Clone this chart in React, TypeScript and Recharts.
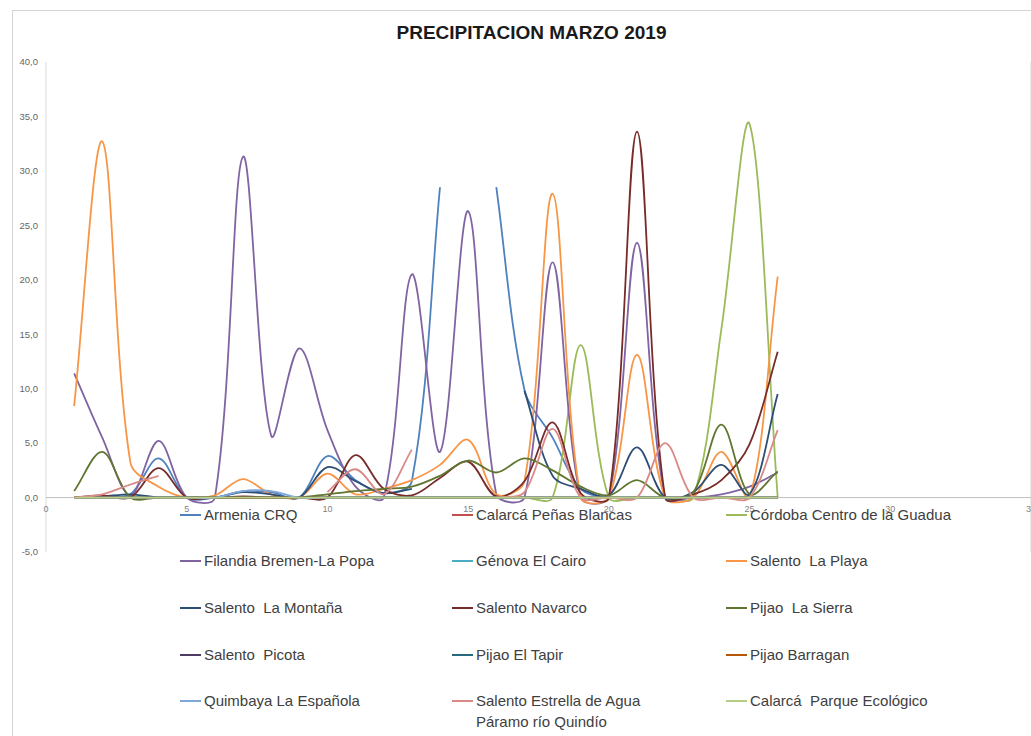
import React from 'react';
import {
  LineChart,
  Line,
  XAxis,
  YAxis,
  CartesianGrid,
  ReferenceLine,
  ReferenceDot,
  Legend,
} from 'recharts';

// ---------- data ----------
const days = [1, 2, 3, 4, 5, 6, 7, 8, 9, 10, 11, 12, 13, 14, 15, 16, 17, 18, 19, 20, 21, 22, 23, 24, 25, 26];

const xTicks = [0, 5, 10, 15, 20, 25, 30, 35];
const yTicks = [-5, 0, 5, 10, 15, 20, 25, 30, 35, 40];

const seriesNames = [
  'Armenia CRQ',
  'Calarcá Peñas Blancas',
  'Córdoba Centro de la Guadua',
  'Filandia Bremen-La Popa',
  'Génova El Cairo',
  'Salento  La Playa',
  'Salento  La Montaña',
  'Salento Navarco',
  'Pijao  La Sierra',
  'Salento  Picota',
  'Pijao El Tapir',
  'Pijao Barragan',
  'Quimbaya La Española',
  'Salento Estrella de Agua Páramo río Quindío',
  'Calarcá  Parque Ecológico',
];

const seriesColors = [
  '#4F81BD',
  '#C0504D',
  '#9BBB59',
  '#8064A2',
  '#4BACC6',
  '#F79646',
  '#2C4D75',
  '#772C2A',
  '#5F7530',
  '#4D3B62',
  '#276A7C',
  '#B65708',
  '#7FA7DA',
  '#D98A87',
  '#B5CE85',
];

type V = number | null;

const armeniaCRQ: V[] = [0, 0.1, 0.3, 3.6, 0, 0, 0.6, 0.5, 0, 3.8, 1.6, 0.4, 1.5, 28.5, null, 28.5, 9.9, 5.5, 0.8, 0, 0, 0, 0, 0, 0, 0];
const calarcaPenasBlancas: V[] = [0, 0, 0, 0, 0, 0, 0, 0, 0, 0, 0, 0, 0, 0, 0, 0, 0, 0, 0, 0, 0, 0, 0, 0, 0, 0];
const cordobaGuadua: V[] = [0, 0, 0, 0, 0, 0, 0, 0, 0, 0, 0, 0, 0, 0, 0, 0, 0, 0, 14.0, 0, 0, 0, 0, 15.5, 34.3, 0];
const filandiaBremen: V[] = [11.4, 5.5, 0.2, 5.2, 0, 0, 31.3, 5.7, 13.7, 6.2, 1.0, 0, 20.5, 4.2, 26.3, 0.3, 0, 21.6, 0, 0, 23.4, 0, 0, 0.3, 1.0, 2.3];
const genovaCairo: V[] = [0, 0, 0, 0, 0, 0, 0, 0, 0, 0, 0, 0, 0, 0, 0, 0, 0, 0, 0, 0, 0, 0, 0, 0, 0, 0];
const salentoLaPlaya: V[] = [8.4, 32.7, 3.2, 1.0, 0, 0.2, 1.7, 0.3, 0, 2.2, 0.3, 0.8, 1.6, 3.0, 5.3, 0.3, 1.5, 27.9, 0, 0, 13.1, 0, 0, 4.2, 0, 20.3];
const salentoLaMontana: V[] = [0, 0.1, 0.3, 0, 0, 0, 0.5, 0.3, 0, 2.8, 1.5, 0.4, 0.8, null, null, null, 9.8, 2.0, 0.8, 0.2, 4.6, 0, 0.5, 3.0, 0.3, 9.5];
const salentoNavarco: V[] = [0, 0.2, 0, 2.7, 0, 0, 0.1, 0, 0, 0, 3.9, 0.8, 0.2, 1.8, 3.3, 0.1, 1.5, 6.9, 0.4, 0, 33.6, 0, 0.3, 1.6, 4.9, 13.4];
const pijaoLaSierra: V[] = [0.6, 4.2, 0, 0, 0, 0, 0, 0, 0, 0.3, 0.6, 0.8, 1.0, 2.0, 3.4, 2.3, 3.6, 2.5, 1.0, 0.2, 1.6, 0, 0.5, 6.7, 0.3, 2.4];
const salentoPicota: V[] = [0, 0, 0, 0, 0, 0, 0, 0, 0, 0, 0, 0, 0, 0, 0, 0, 0, 0, 0, 0, 0, 0, 0, 0, 0, 0];
const pijaoElTapir: V[] = [0, 0, 0, 0, 0, 0, 0, 0, 0, 0, 0, 0, 0, 0, 0, 0, 0, 0, 0, 0, 0, 0, 0, 0, 0, 0];
const pijaoBarragan: V[] = [0, 0, 0, 0, 0, 0, 0, 0, 0, 0, 0, 0, 0, 0, 0, 0, 0, 0, 0, 0, 0, 0, 0, 0, 0, 0];
const quimbayaEspanola: V[] = [0, 0, 0, 0, 0, 0, 0.6, 0.6, 0, 0, 0, 0, 0, 0, 0, 0, 0, 0, 0, 0, 0, 0, 0, 0, 0, 0];
const salentoEstrella: V[] = [0, 0.3, 1.2, 2.0, null, null, null, null, null, 0.5, 2.6, 0.3, 4.4, null, null, 0, 0.5, 6.3, 0, 0, 0, 5.0, 0, 0, 0, 6.2];
const calarcaParque: V[] = [0, 0, 0, 0, 0, 0, 0, 0, 0, 0, 0, 0, 0, 0, 0, 0, 0, 0, 0, 0, 0, 0, 0, 0, 0, 0];

const seriesValues: V[][] = [
  armeniaCRQ,
  calarcaPenasBlancas,
  cordobaGuadua,
  filandiaBremen,
  genovaCairo,
  salentoLaPlaya,
  salentoLaMontana,
  salentoNavarco,
  pijaoLaSierra,
  salentoPicota,
  pijaoElTapir,
  pijaoBarragan,
  quimbayaEspanola,
  salentoEstrella,
  calarcaParque,
];

const chartData = days.map((d, i) => {
  const row: Record<string, number | null> = { day: d };
  seriesValues.forEach((vals, s) => {
    row['s' + s] = vals[i];
  });
  return row;
});

// ---------- Excel-like smoothing (chord-weighted Bezier through the points) ----------
function excelSmooth(context: any) {
  let pts: [number, number][] = [];
  const dist = (a: [number, number], b: [number, number]) => Math.hypot(b[0] - a[0], b[1] - a[1]);
  return {
    areaStart() {},
    areaEnd() {},
    lineStart() {
      pts = [];
    },
    lineEnd() {
      const n = pts.length;
      if (!n) return;
      context.moveTo(pts[0][0], pts[0][1]);
      if (n === 1) {
        context.lineTo(pts[0][0], pts[0][1]);
        return;
      }
      const outC: [number, number][] = [];
      const inC: [number, number][] = [];
      for (let i = 0; i < n; i++) {
        const p = pts[i];
        const prev = pts[i - 1] || p;
        const next = pts[i + 1] || p;
        const l1 = dist(prev, p);
        const l2 = dist(p, next);
        const tx = next[0] - prev[0];
        const ty = next[1] - prev[1];
        const sum = l1 + l2 || 1;
        const fOut = l2 / sum / 3;
        const fIn = l1 / sum / 3;
        outC.push([p[0] + tx * fOut, p[1] + ty * fOut]);
        inC.push([p[0] - tx * fIn, p[1] - ty * fIn]);
      }
      for (let i = 0; i < n - 1; i++) {
        const c1 = outC[i];
        const c2 = inC[i + 1];
        const p2 = pts[i + 1];
        context.bezierCurveTo(c1[0], c1[1], c2[0], c2[1], p2[0], p2[1]);
      }
    },
    point(x: number, y: number) {
      pts.push([+x, +y]);
    },
  };
}

// ---------- legend ----------
const legendCols = [180, 452, 726];
const legendRows = [514, 560, 607, 654, 700];

const LegendContent = () => (
  <div style={{ position: 'relative', width: 1031, height: 736 }}>
    {seriesNames.map((name, i) => {
      const col = i % 3;
      const row = Math.floor(i / 3);
      return (
        <div
          key={name}
          style={{
            position: 'absolute',
            left: legendCols[col],
            top: legendRows[row] - 10.5,
            display: 'flex',
            alignItems: 'flex-start',
          }}
        >
          <div
            style={{
              width: 21,
              height: 0,
              marginTop: 10,
              borderTop: `2px solid ${seriesColors[i]}`,
            }}
          />
          <div
            style={{
              marginLeft: 3,
              fontFamily: '"Liberation Sans", Arial, sans-serif',
              fontSize: 15,
              lineHeight: '21px',
              color: '#404040',
              whiteSpace: 'pre-wrap',
              maxWidth: 215,
            }}
          >
            {name}
          </div>
        </div>
      );
    })}
  </div>
);

const fmtY = (v: number) => v.toFixed(1).replace('.', ',');

export default function App() {
  return (
    <div
      style={{
        position: 'absolute',
        left: 0,
        top: 0,
        width: 1031,
        height: 736,
        background: '#ffffff',
        overflow: 'hidden',
      }}
    >
      <div style={{ position: 'absolute', left: 12, top: 10, width: 1, height: 726, background: '#d4d4d4' }} />
      <div style={{ position: 'absolute', left: 12, top: 10, width: 1019, height: 1, background: '#d4d4d4' }} />
      <div
        style={{
          position: 'absolute',
          left: 0,
          top: 21,
          width: 1063,
          textAlign: 'center',
          fontFamily: '"Liberation Sans", Arial, sans-serif',
          fontWeight: 'bold',
          fontSize: 19,
          color: '#1a1a1a',
          lineHeight: '24px',
        }}
      >
        PRECIPITACION MARZO 2019
      </div>
      <LineChart
        width={1031}
        height={736}
        data={chartData}
        margin={{ top: 62, right: 0, left: 0, bottom: 184 }}
      >
        <CartesianGrid horizontal={false} stroke="#d9d9d9" strokeWidth={1} />
        <XAxis
          dataKey="day"
          type="number"
          domain={[0, 35]}
          ticks={xTicks}
          height={0}
          tick={false}
          axisLine={false}
          tickLine={false}
        />
        <YAxis
          type="number"
          domain={[-5, 40]}
          ticks={yTicks}
          width={46}
          axisLine={false}
          tickLine={false}
          tickFormatter={fmtY}
          tick={{ fontSize: 9.5, fill: '#666666', fontFamily: '"Liberation Sans", Arial, sans-serif' }}
        />
        <ReferenceLine y={0} stroke="#bfbfbf" strokeWidth={1} />
        {xTicks.map((t) => (
          <ReferenceDot
            key={'xl' + t}
            x={t}
            y={0}
            r={0}
            fill="none"
            stroke="none"
            label={{
              value: String(t),
              position: 'bottom',
              offset: 8,
              fontSize: 9,
              fill: '#7f7f7f',
              fontFamily: '"Liberation Sans", Arial, sans-serif',
            }}
          />
        ))}
        {seriesNames.map((name, i) => (
          <Line
            key={name}
            dataKey={'s' + i}
            name={name}
            type={excelSmooth as any}
            stroke={seriesColors[i]}
            strokeWidth={1.8}
            dot={false}
            activeDot={false}
            connectNulls={false}
            isAnimationActive={false}
          />
        ))}
        <Legend
          layout="horizontal"
          verticalAlign="middle"
          align="center"
          content={() => <LegendContent />}
          wrapperStyle={{ left: 0, top: 0, width: 1031, height: 736, pointerEvents: 'none' }}
        />
      </LineChart>
    </div>
  );
}
